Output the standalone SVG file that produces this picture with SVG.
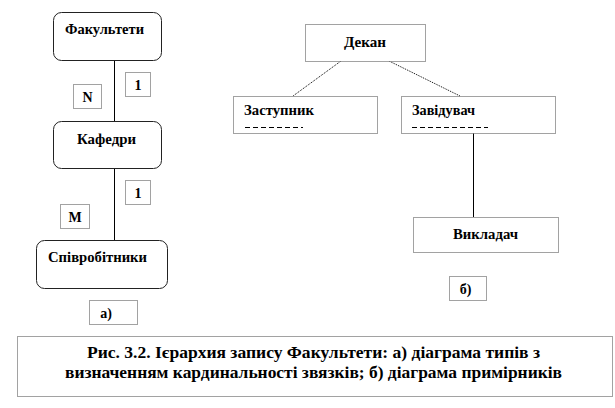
<svg xmlns="http://www.w3.org/2000/svg" width="615" height="408" viewBox="0 0 615 408">
<style>
text{font-weight:bold;fill:#000}
.n{font-size:14px}
.c{font-size:16px}
.ent{fill:#fff;stroke:#222;stroke-width:1}
.lbl{fill:#fff;stroke:#444;stroke-width:1;stroke-dasharray:1 1}
.inst{fill:#fff;stroke:#444;stroke-width:1;stroke-dasharray:1 1}
.ln{stroke:#000;stroke-width:1;fill:none}
.dln{stroke:#000;stroke-width:1;fill:none;stroke-dasharray:1 1}
.ul{stroke:#000;stroke-width:1;fill:none;stroke-dasharray:5 3}
</style>
<rect width="615" height="408" fill="#fff"/>
<g font-family="Liberation Serif, DejaVu Serif, Times New Roman, serif">
<g id="connectors">
<line class="ln" x1="114.5" y1="61" x2="114.5" y2="121"/>
<line class="ln" x1="114.5" y1="168" x2="114.5" y2="240"/>
<line class="dln" x1="341" y1="61" x2="293" y2="96"/>
<line class="dln" x1="389" y1="61" x2="460" y2="96"/>
<line class="ln" x1="473.5" y1="133" x2="473.5" y2="217"/>
</g>
<g id="fakultety"><rect class="ent" x="53.5" y="12.5" width="108" height="48" rx="8"/><text class="n" x="65" y="34" textLength="79" lengthAdjust="spacingAndGlyphs">Факультети</text></g>
<g id="kafedry"><rect class="ent" x="53.5" y="121.5" width="108" height="47" rx="8"/><text class="n" x="77" y="144" textLength="59" lengthAdjust="spacingAndGlyphs">Кафедри</text></g>
<g id="spivrobitnyky"><rect class="ent" x="36.5" y="240.5" width="131" height="48" rx="8"/><text class="n" x="48" y="262" textLength="99" lengthAdjust="spacingAndGlyphs">Співробітники</text></g>
<g id="card-1a"><rect class="lbl" x="125.5" y="72.5" width="25" height="24"/><text class="n" x="138" y="90" text-anchor="middle">1</text></g>
<g id="card-n"><rect class="lbl" x="73.5" y="84.5" width="28" height="24"/><text class="n" x="87.5" y="102" text-anchor="middle">N</text></g>
<g id="card-1b"><rect class="lbl" x="125.5" y="180.5" width="25" height="24"/><text class="n" x="138" y="198" text-anchor="middle">1</text></g>
<g id="card-m"><rect class="lbl" x="60.5" y="204.5" width="29" height="24"/><text class="n" x="75" y="222" text-anchor="middle">M</text></g>
<g id="label-a"><rect class="lbl" x="89.5" y="300.5" width="48" height="24"/><text class="n" x="106" y="318" text-anchor="middle">а)</text></g>
<g id="dekan"><rect class="inst" x="305.5" y="24.5" width="120" height="37"/><text class="n" x="344" y="47" textLength="42" lengthAdjust="spacingAndGlyphs">Декан</text></g>
<g id="zastupnyk"><rect class="inst" x="233.5" y="96.5" width="144" height="37"/><text class="n" x="244" y="115" textLength="70" lengthAdjust="spacingAndGlyphs">Заступник</text><line class="ul" x1="245" y1="127.5" x2="303" y2="127.5"/></g>
<g id="zaviduvach"><rect class="inst" x="401.5" y="96.5" width="154" height="37"/><text class="n" x="412" y="115" textLength="63" lengthAdjust="spacingAndGlyphs">Завідувач</text><line class="ul" x1="412" y1="127.5" x2="488" y2="127.5"/></g>
<g id="vykladach"><rect class="inst" x="413.5" y="217.5" width="145" height="35"/><text class="n" x="453" y="239" textLength="65" lengthAdjust="spacingAndGlyphs">Викладач</text></g>
<g id="label-b"><rect class="lbl" x="449.5" y="276.5" width="37" height="24"/><text class="n" x="465.5" y="294" text-anchor="middle">б)</text></g>
<g id="caption"><rect class="lbl" x="17.5" y="336.5" width="595" height="60"/>
<text class="c" x="87" y="358" textLength="453" lengthAdjust="spacingAndGlyphs">Рис. 3.2. Ієрархия запису Факультети: а) діаграма типів з</text>
<text class="c" x="65" y="378" textLength="497" lengthAdjust="spacingAndGlyphs">визначенням кардинальності звязків; б) діаграма примірників</text></g>
</g>
</svg>
